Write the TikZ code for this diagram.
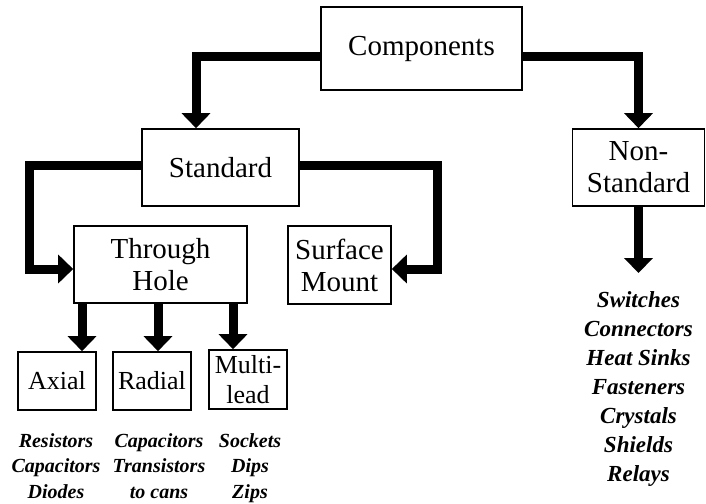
\documentclass[tikz,border=0pt]{standalone}
\usepackage{fontspec}
\setmainfont{Liberation Serif}
\usetikzlibrary{arrows.meta}

\begin{document}
\begin{tikzpicture}[x=1pt,y=-1pt,
  box/.style={draw,line width=1.6pt,align=center,inner sep=1pt,font=\fontsize{29}{32}\selectfont},
  small/.style={box,font=\fontsize{26}{30}\selectfont},
  conn/.style={line width=9pt,-{Triangle[width=28pt,length=15pt]}},
  items/.style={align=center,inner sep=0pt,font=\fontsize{20}{25.5}\selectfont\bfseries\itshape}]
\useasboundingbox (0,0) rectangle (706,503);

\node[box,minimum width=201pt,minimum height=83pt] (comp) at (421.5,48.5) {Components};
\node[box,minimum width=157pt,minimum height=77pt] (std) at (220.5,167.5) {Standard};
\node[box,minimum width=132pt,minimum height=77pt] (nonstd) at (638.5,167.5) {Non-\\Standard};
\node[box,minimum width=173pt,minimum height=77pt] (thru) at (160.5,264.5) {Through\\Hole};
\node[box,minimum width=103pt,minimum height=78pt] (surf) at (339.5,265) {Surface\\Mount};
\node[small,minimum width=78pt,minimum height=58pt] (axial) at (57,381) {Axial};
\node[small,minimum width=78pt,minimum height=58pt] (radial) at (152,381) {Radial};
\node[small,minimum width=78pt,minimum height=59pt] (multi) at (248,379.5) {Multi-\\lead};

\node[items] (axlist) at (56,466) {Resistors\\Capacitors\\Diodes};
\node[items] (radlist) at (159,466) {Capacitors\\Transistors\\to cans};
\node[items] (multlist) at (250,468) {Sockets\\Dips\\Zips};
\node[items,font=\fontsize{23}{29}\selectfont\bfseries\itshape] (nslist) at (638.5,388.7)
  {Switches\\Connectors\\Heat Sinks\\Fasteners\\Crystals\\Shields\\Relays};

\draw[conn] ([yshift=-8.5pt]comp.west) -| ([xshift=-24.5pt]std.north);
\draw[conn] ([yshift=-8.5pt]comp.east) -| (nonstd);
\draw[conn] ([yshift=2.5pt]std.west) -- ++(-112,0) |- ([yshift=-4.5pt]thru.west);
\draw[conn] ([yshift=2.5pt]std.east) -- ++(138,0) |- ([yshift=-4pt]surf.east);
\foreach \x/\n in {82/axial,158/radial,233/multi}
  \draw[conn] (thru.south -| \x,0) -- (\n.north -| \x,0);
\draw[conn,shorten >=18pt] (nonstd) -- (nslist);
\end{tikzpicture}
\end{document}
